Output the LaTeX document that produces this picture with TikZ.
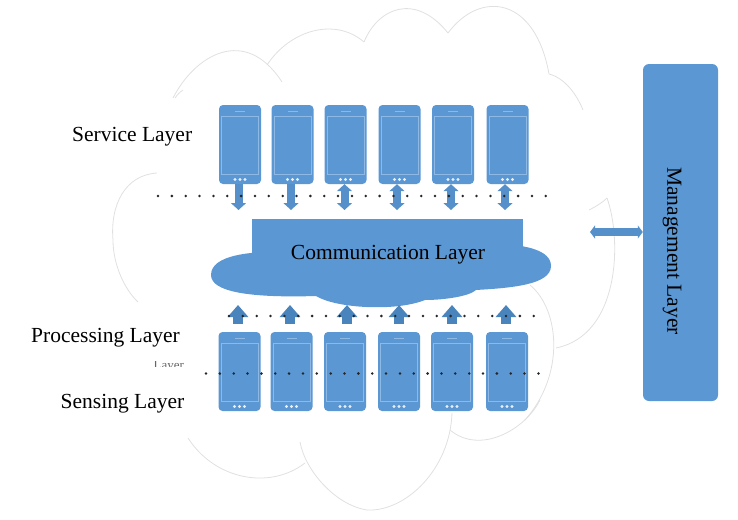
\documentclass[tikz,border=0pt]{standalone}
\usepackage{fontspec}
\setmainfont{Liberation Serif}
\usetikzlibrary{positioning,arrows.meta,calc}
\definecolor{phoneblue}{HTML}{5B97D3}
\definecolor{arrowblue}{HTML}{5590CB}
\definecolor{upblue}{HTML}{4A84BC}
\definecolor{screenline}{HTML}{8DB9E4}
\tikzset{
  layerlabel/.style={font=\fontsize{21.5}{24}\selectfont,inner sep=0pt,text=black},
  phonebody/.style={fill=phoneblue,rounded corners=4pt,minimum width=42pt,minimum height=79pt,inner sep=0pt},
  outline/.style={draw=black!12,line width=.8pt},
  dotrow/.style={line width=2.8pt,line cap=round,dash pattern=on 0pt off 13.85pt},
  downarrow/.style={arrowblue,line width=8pt,-{Triangle[width=15pt,length=7pt]}},
  bootharrow/.style={arrowblue,line width=8pt,{Triangle[width=15pt,length=7pt]}-{Triangle[width=15pt,length=7pt]}},
  uparrow/.style={upblue,line width=10pt,-{Triangle[width=20pt,length=12pt]}},
}
\newcommand{\phone}[3]{
  \node[phonebody] (#1) at (#2,#3){};
  \draw[screenline,line width=.5pt] ($(#1)+(-18.5,-28.5)$) rectangle ($(#1)+(18.5,29.5)$);
  \draw[screenline,line width=.8pt] ($(#1)+(-5,-32.8)$) -- ($(#1)+(5,-32.8)$);
  \foreach \d in {-5,0,5}
    \fill[white!85!phoneblue] ($(#1)+(\d,35)$) circle (1.6pt);
}
\begin{document}
\begin{tikzpicture}[x=1pt,y=-1pt]
  \useasboundingbox (0,0) rectangle (738,519);
  % outer cloud
  \draw[outline] (173,98) .. controls (195,55) and (245,25) .. (282,82);
  \draw[outline] (267,65) .. controls (290,30) and (335,17) .. (364,42);
  \draw[outline] (364,42) .. controls (378,8) and (415,-8) .. (448,33);
  \draw[outline] (448,33) .. controls (480,-10) and (535,-4) .. (549,74);
  \draw[outline] (549,74) .. controls (565,78) and (577,95) .. (583,110);
  \draw[outline] (589,210) .. controls (597,206) and (603,202) .. (607,198);
  \draw[outline] (607,198) .. controls (622,240) and (620,335) .. (556,348);
  \draw[outline] (530,285) .. controls (560,310) and (565,375) .. (525,420);
  \draw[outline] (540,400) .. controls (525,430) and (480,455) .. (450,430);
  \draw[outline] (452,413) .. controls (450,470) and (405,512) .. (367,510);
  \draw[outline] (367,510) .. controls (335,505) and (305,470) .. (300,442);
  \draw[outline] (305,463) .. controls (270,490) and (215,480) .. (188,438);
  \draw[outline] (183,90) .. controls (180,92) and (177,95) .. (175,98);
  \draw[outline] (157,173) .. controls (125,175) and (110,205) .. (113,240);
  \draw[outline] (113,240) .. controls (113,265) and (125,290) .. (138,302);
  % middle cloud and box
  \fill[phoneblue] (300,252) .. controls (250,250) and (211,255) .. (211,275)
    .. controls (211,292) and (250,298) .. (316,296)
    .. controls (335,308) and (395,312) .. (425,300)
    .. controls (445,300) and (470,296) .. (476,290)
    .. controls (510,288) and (551,285) .. (551,266)
    .. controls (551,250) and (525,245) .. (500,244) -- cycle;
  \node[fill=phoneblue,minimum width=271pt,minimum height=47pt,inner sep=0pt] (comm) at (387.5,242.5){};
  \node[layerlabel] (commlabel) at (388,255){Communication Layer};
  % phones
  \foreach \i/\x in {1/240,2/292.5,3/345.5,4/399.5,5/453,6/507.5}{
    \phone{s\i}{\x}{144.5}
  }
  \foreach \i/\x in {1/239.5,2/291.5,3/345,4/399,5/452,6/507}{
    \phone{b\i}{\x}{371.5}
  }
  % arrows
  \foreach \i/\x in {1/238.5,2/291}{
    \coordinate (d\i) at (\x,210);
    \draw[downarrow] (s\i.south -| d\i) -- (d\i);
  }
  \foreach \i/\x in {3/344.5,4/397,5/451,6/505}{
    \coordinate (d\i) at (\x,210);
    \draw[bootharrow] (s\i.south -| d\i) -- (d\i);
  }
  \foreach \i/\x in {1/238,2/290,3/347,4/399,5/452,6/506}{
    \coordinate (t\i) at (\x,305);
    \draw[uparrow,shorten <=8pt] (b\i.north -| t\i) -- (t\i);
  }
  % dotted rows
  \coordinate (dotsA) at (158,196);
  \coordinate (dotsB) at (548,196);
  \coordinate (dotsC) at (229,316);
  \coordinate (dotsD) at (534,316);
  \coordinate (dotsE) at (206,373.5);
  \coordinate (dotsF) at (539,373.5);
  \draw[dotrow,black!85] (dotsA) -- (dotsB);
  \draw[dotrow,black!85] (dotsC) -- (dotsD);
  \draw[dotrow,black!85] (dotsE) -- (dotsF);
  % management
  \node[fill=phoneblue,rounded corners=6pt,minimum width=75pt,minimum height=337pt,inner sep=0pt] (mgmt) at (680.5,232.5){};
  \node[layerlabel,rotate=-90] (mgmtlabel) at (672,251){Management Layer};
  \coordinate (mgmtend) at (590,232);
  \draw[arrowblue,line width=7.5pt,{Triangle[width=13pt,length=5pt]}-{Triangle[width=13pt,length=5pt]}] (mgmtend) -- (mgmt.west |- mgmtend);
  % labels
  \node[layerlabel,anchor=base west] (service) at (72,141){Service Layer};
  \node[layerlabel,anchor=base west] (processing) at (31,342){Processing Layer};
  \node[layerlabel,anchor=base west] (sensing) at (60.5,408.5){Sensing Layer};
  \begin{scope}
    \clip (150,361) rectangle (185,366.5);
    \node[font=\fontsize{13}{15}\selectfont,text=black!60,inner sep=0pt,anchor=base west] (hidden) at (153.5,369){Layer};
  \end{scope}
\end{tikzpicture}
\end{document}
